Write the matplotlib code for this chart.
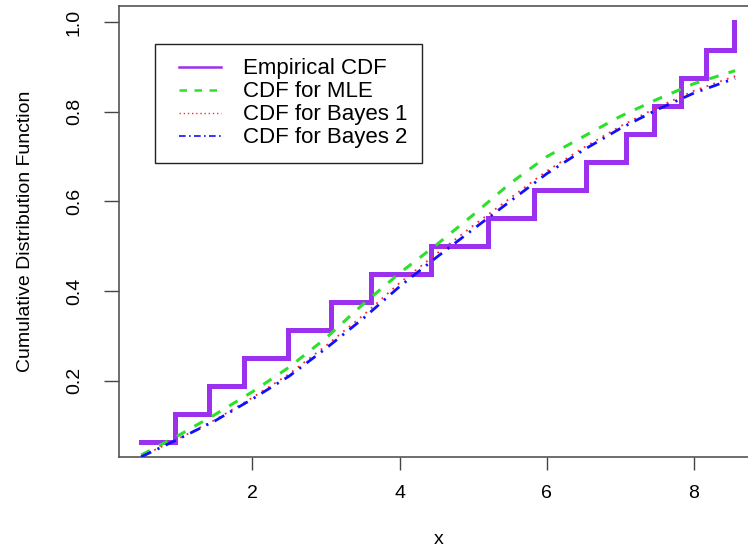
import matplotlib
matplotlib.use("Agg")
import matplotlib.pyplot as plt
from matplotlib.lines import Line2D
from matplotlib.legend_handler import HandlerLine2D

plt.rcParams['font.family'] = ['Liberation Sans', 'DejaVu Sans']

# Empirical CDF sample points (sorted) and levels
ecdf_x = [0.49, 0.947, 1.418, 1.885, 2.485, 3.075, 3.609, 4.423, 5.208, 5.826,
          6.527, 7.072, 7.454, 7.82, 8.17, 8.55]
ecdf_y = [0.0625, 0.125, 0.1875, 0.25, 0.3125, 0.375, 0.4375, 0.5, 0.5625, 0.625,
          0.6875, 0.75, 0.8125, 0.875, 0.9375, 1.0]

# Fitted CDF curves read at these x positions
curve_x = [0.49, 1.0, 1.5, 2.0, 2.5, 3.0, 3.5, 4.0, 4.5, 5.0, 5.5, 6.0, 6.5, 7.0, 7.5, 8.0, 8.56]
cdf_mle = [0.034, 0.078, 0.125, 0.175, 0.230, 0.295, 0.370, 0.440, 0.503, 0.570, 0.640,
           0.700, 0.745, 0.790, 0.828, 0.863, 0.892]
cdf_bayes1 = [0.031, 0.071, 0.113, 0.162, 0.215, 0.278, 0.345, 0.418, 0.483, 0.546, 0.607,
              0.668, 0.720, 0.768, 0.810, 0.847, 0.880]
cdf_bayes2 = [0.030, 0.070, 0.111, 0.159, 0.210, 0.272, 0.338, 0.410, 0.475, 0.538, 0.600,
              0.662, 0.715, 0.763, 0.805, 0.842, 0.875]

x_ticks = [2, 4, 6, 8]
y_ticks = [0.2, 0.4, 0.6, 0.8, 1.0]
legend_labels = ["Empirical CDF", "CDF for MLE", "CDF for Bayes 1", "CDF for Bayes 2"]

PURPLE = '#9b30ee'
GREEN = '#2de02d'
RED = '#ff2a2a'
BLUE = '#1010ff'


class ShiftHandler(HandlerLine2D):
    """Legend line handler that leaves a gap before the sample line."""
    def __init__(self, shift, **kw):
        super().__init__(**kw)
        self.shift = shift

    def get_xdata(self, legend, xdescent, ydescent, width, height, fontsize):
        xd, xm = super().get_xdata(legend, xdescent, ydescent, width, height, fontsize)
        return [xd[0] + self.shift, xd[-1]], xm


fig = plt.figure(figsize=(7.48, 5.48), dpi=100)
ax = fig.add_axes([119/748, 1-457.3/548, (758.7-119)/748, (457.3-5.7)/548])

ax.plot(ecdf_x, ecdf_y, drawstyle='steps-post', color=PURPLE, lw=3.6,
        solid_joinstyle='miter', zorder=3)
ax.plot(curve_x, cdf_mle, color=GREEN, lw=2.2, ls=(0, (3.2, 3.4)), zorder=4)
ax.plot(curve_x, cdf_bayes1, color=RED, lw=1.3, ls=(0, (1, 3)), zorder=4)
ax.plot(curve_x, cdf_bayes2, color=BLUE, lw=2.0, ls=(0, (4, 2.5, 0.8, 2.5)), zorder=4)

ax.set_xlim(0.189, 8.88)
ax.set_ylim(0.029, 1.037)
ax.set_xticks(x_ticks)
ax.set_xticklabels([str(v) for v in x_ticks], fontsize=14)
ax.set_yticks(y_ticks)
ax.set_yticklabels([f"{v:.1f}" for v in y_ticks], fontsize=14, rotation=90, va='center')
ax.tick_params(axis='x', length=9, width=1.0, pad=11, color='#444444')
ax.tick_params(axis='y', length=11, width=1.0, pad=15, color='#444444')
for s in ax.spines.values():
    s.set_color('#555555')
    s.set_linewidth(1.2)

ax.set_xlabel("x", fontsize=14, labelpad=21)
ax.set_ylabel("Cumulative Distribution Function", fontsize=14, labelpad=23)

handles = [
    Line2D([], [], color=PURPLE, lw=1.8),
    Line2D([], [], color=GREEN, lw=1.8, ls=(0, (3, 3))),
    Line2D([], [], color=RED, lw=1.0, ls=(0, (1, 2))),
    Line2D([], [], color=BLUE, lw=1.2, ls=(0, (4, 2, 1, 2))),
]
hmap = {h: ShiftHandler(7.0) for h in handles}
leg = ax.legend(handles, legend_labels, loc='upper left', handler_map=hmap,
                bbox_to_anchor=(155/748, 1-44/548), bbox_transform=fig.transFigure,
                fontsize=16, frameon=True, fancybox=False, framealpha=1,
                edgecolor='#222222', borderpad=0.65, labelspacing=0.09,
                handlelength=2.3, handletextpad=0.99, borderaxespad=0)
leg.get_frame().set_linewidth(1.0)

fig.savefig("out.png", dpi=100)
